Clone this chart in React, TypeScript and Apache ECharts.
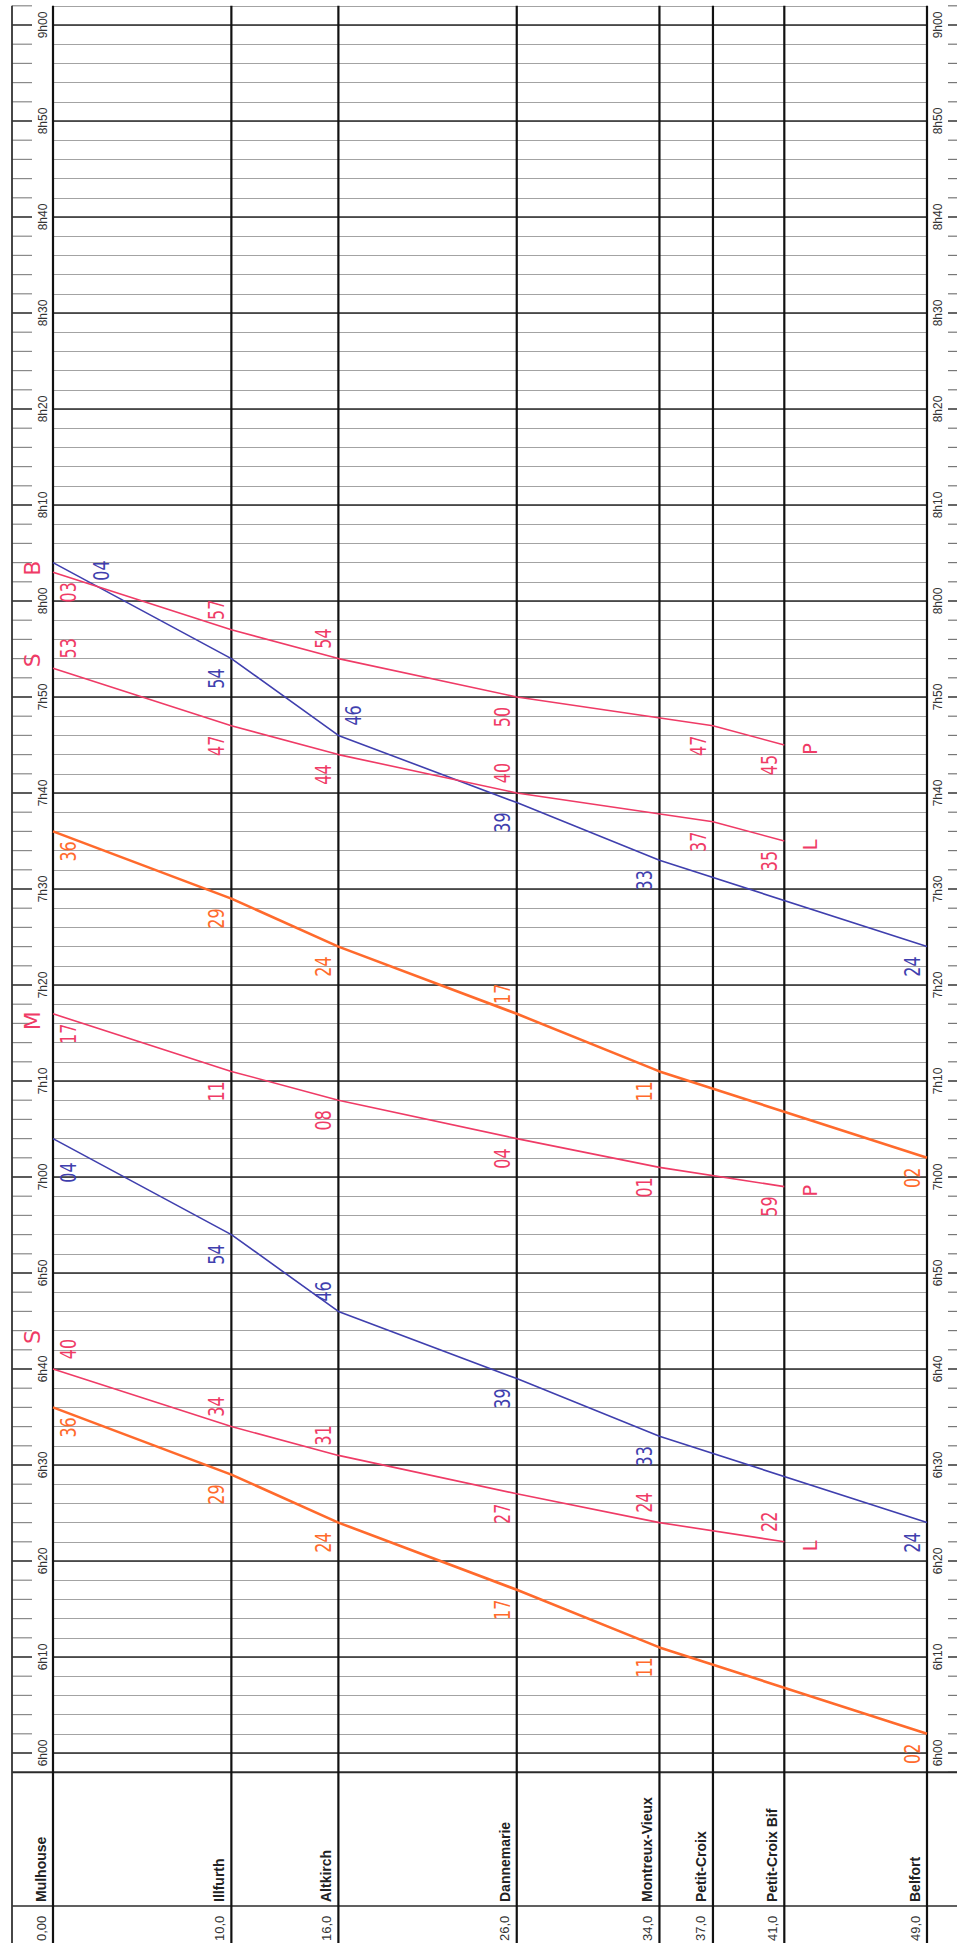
import React, { useEffect, useRef } from 'react';
import * as echarts from 'echarts';

// ---------- DATA ----------
const STATIONS = ['Mulhouse', 'Illfurth', 'Altkirch', 'Dannemarie', 'Montreux-Vieux', 'Petit-Croix', 'Petit-Croix Bif', 'Belfort'];
const STATION_KM = [0, 10, 16, 26, 34, 37, 41, 49];
const KM_LABELS = ['0,00', '10,0', '16,0', '26,0', '34,0', '37,0', '41,0', '49,0'];
const TIME_LABELS = ['6h00', '6h10', '6h20', '6h30', '6h40', '6h50', '7h00', '7h10', '7h20', '7h30', '7h40', '7h50', '8h00', '8h10', '8h20', '8h30', '8h40', '8h50', '9h00'];

// passing times at each station (same order as STATIONS); null = not marked
const ORANGE_1 = ['6:36', '6:29', '6:24', '6:17', '6:11', null, null, '6:02'];
const ORANGE_2 = ['7:36', '7:29', '7:24', '7:17', '7:11', null, null, '7:02'];
const BLUE_1 = ['7:04', '6:54', '6:46', '6:39', '6:33', null, null, '6:24'];
const BLUE_2 = ['8:04', '7:54', '7:46', '7:39', '7:33', null, null, '7:24'];
const PINK_S1 = ['6:40', '6:34', '6:31', '6:27', '6:24', null, '6:22', null];
const PINK_M = ['7:17', '7:11', '7:08', '7:04', '7:01', null, '6:59', null];
const PINK_S2 = ['7:53', '7:47', '7:44', '7:40', null, '7:37', '7:35', null];
const PINK_B = ['8:03', '7:57', '7:54', '7:50', null, '7:47', '7:45', null];

// letters written at the two ends of some trains
const PINK_S1_TAGS = ['S', 'L'];
const PINK_M_TAGS = ['M', 'P'];
const PINK_S2_TAGS = ['S', 'L'];
const PINK_B_TAGS = ['B', 'P'];

// ---------- STYLE / LAYOUT ----------
const ORANGE = '#ff6a2c';
const BLUE = '#3f3fae';
const PINK = '#ef3b66';
const HAND_FONT = '"DejaVu Sans", sans-serif';
const PRINT_FONT = '"Liberation Sans", Arial, sans-serif';

// label side per station: b below-left, a above-left, B below-right, A above-right,
// c further below-right, R far right
const SIDE_OFFSETS: Record<string, [number, number]> = {
  b: [-15, 20], a: [-15, -20], B: [15, 20], A: [15, -20], c: [15, 34], R: [48, 8],
};
const TRAINS = [
  { times: ORANGE_1, color: ORANGE, width: 2.6, sides: 'Bbbbb--b', tags: null, tagDy: 0 },
  { times: ORANGE_2, color: ORANGE, width: 2.6, sides: 'Bbbab--b', tags: null, tagDy: 0 },
  { times: BLUE_1, color: BLUE, width: 1.6, sides: 'cbabb--b', tags: null, tagDy: 0 },
  { times: BLUE_2, color: BLUE, width: 1.6, sides: 'RbAbb--b', tags: null, tagDy: 0 },
  { times: PINK_S1, color: PINK, width: 1.6, sides: 'Aaaba-a-', tags: PINK_S1_TAGS, tagDy: -32 },
  { times: PINK_M, color: PINK, width: 1.6, sides: 'Bbbbb-b-', tags: PINK_M_TAGS, tagDy: 7 },
  { times: PINK_S2, color: PINK, width: 1.6, sides: 'Abba-bb-', tags: PINK_S2_TAGS, tagDy: -8 },
  { times: PINK_B, color: PINK, width: 1.6, sides: 'Baab-bb-', tags: PINK_B_TAGS, tagDy: -4 },
];

const W = 957;
const H = 1943;
const T_MIN = -2;
const T_MAX = 182;

function toMin(s: string): number {
  const [h, m] = s.split(':').map(Number);
  return (h - 6) * 60 + m;
}

export default function App() {
  const ref = useRef<HTMLDivElement>(null);

  useEffect(() => {
    if (!ref.current) return;
    const chart = echarts.init(ref.current, undefined, { renderer: 'svg', width: W, height: H });

    const series = TRAINS.map((tr, k) => ({
      type: 'line',
      name: 'train' + k,
      data: STATION_KM.map((km, i) => (tr.times[i] ? [km, toMin(tr.times[i] as string)] : null)).filter(Boolean),
      showSymbol: false,
      symbol: 'none',
      lineStyle: { color: tr.color, width: tr.width },
      z: 5,
      silent: true,
    }));

    chart.setOption({
      animation: false,
      backgroundColor: '#ffffff',
      grid: { left: 53, right: 30, top: 5.8, bottom: 170.8, containLabel: false },
      xAxis: {
        type: 'value', min: 0, max: 49,
        axisLine: { show: false }, axisTick: { show: false }, axisLabel: { show: false }, splitLine: { show: false },
      },
      yAxis: {
        type: 'value', min: T_MIN, max: T_MAX, interval: 2,
        axisLine: { show: false }, axisTick: { show: false }, axisLabel: { show: false },
        splitLine: { show: true, lineStyle: { color: '#a3a3a3', width: 1.1 } },
      },
      series,
    });

    const px = (km: number) => chart.convertToPixel({ xAxisIndex: 0 }, km) as number;
    const py = (t: number) => chart.convertToPixel({ yAxisIndex: 0 }, t) as number;

    const x0 = px(0);
    const xEnd = px(49);
    const borderX = x0 - 41;
    const yTop = py(T_MAX);
    const yHeadTop = py(T_MIN);
    const yHeadSep = 1906;

    const g: any[] = [];
    const line = (x1: number, y1: number, x2: number, y2: number, stroke: string, lw: number, z = 1) =>
      g.push({ type: 'line', silent: true, z, shape: { x1, y1, x2, y2 }, style: { stroke, lineWidth: lw } });
    const text = (x: number, y: number, t: string, font: string, fill: string, align: string, valign: string, z = 20, scaleY = 1) =>
      g.push({
        type: 'text', silent: true, z, x, y, rotation: Math.PI / 2, scaleY,
        style: { text: t, font, fill, align, textAlign: align, verticalAlign: valign, textVerticalAlign: valign },
      });

    // time grid: major lines in the plot, dashes in the label columns
    for (let t = T_MIN; t <= T_MAX; t += 2) {
      const y = py(t);
      const major = t % 10 === 0;
      if (major) line(x0, y, xEnd, y, '#2b2b2b', 1.6, 2);
      if (t !== T_MIN) {
        line(borderX, y, borderX + 20, y, major ? '#333' : '#8a8a8a', major ? 1.6 : 1.2, 2);
      }
      line(xEnd + 21, y, W, y, major ? '#333' : '#777', major ? 1.5 : 1.2, 2);
    }
    // header lines
    line(borderX, yHeadTop, W, yHeadTop, '#2b2b2b', 2, 3);
    line(borderX, yHeadSep, W, yHeadSep, '#2b2b2b', 1.6, 3);
    // vertical lines
    line(borderX, yTop, borderX, H, '#333', 1.8, 3);
    STATION_KM.forEach((km) => line(px(km), yTop, px(km), H, '#111', 2.2, 3));

    // time labels
    TIME_LABELS.forEach((lab, i) => {
      const y = py(i * 10);
      text(x0 - 10, y, lab, `12px ${PRINT_FONT}`, '#333', 'center', 'middle');
      text(xEnd + 11, y, lab, `12px ${PRINT_FONT}`, '#333', 'center', 'middle');
    });

    // station names and km
    STATIONS.forEach((name, i) => {
      const x = px(STATION_KM[i]);
      text(x - 12, 1902, name, `bold 14px ${PRINT_FONT}`, '#222', 'left', 'middle');
      text(x - 12, 1941, KM_LABELS[i], `13px ${PRINT_FONT}`, '#333', 'left', 'middle');
    });

    // handwritten minutes
    TRAINS.forEach((tr) => {
      tr.times.forEach((tm, i) => {
        if (!tm) return;
        const [dx, dy] = SIDE_OFFSETS[tr.sides[i]] || SIDE_OFFSETS.b;
        const x = px(STATION_KM[i]);
        const y = py(toMin(tm as string));
        text(x + dx, y + dy, (tm as string).split(':')[1],
          `16px ${HAND_FONT}`, tr.color, 'center', 'middle', 30, 1.35);
      });
      if (tr.tags) {
        const first = tr.times[0] as string;
        text(x0 - 21, py(toMin(first)) + tr.tagDy, tr.tags[0], `22px ${HAND_FONT}`, tr.color, 'center', 'middle', 30);
        let last = 0;
        tr.times.forEach((tm, i) => { if (tm) last = i; });
        text(px(STATION_KM[last]) + 26, py(toMin(tr.times[last] as string)) + 4, tr.tags[1],
          `20px ${HAND_FONT}`, tr.color, 'center', 'middle', 30);
      }
    });

    chart.setOption({ graphic: { elements: g } });

    return () => chart.dispose();
  }, []);

  return (
    <div
      ref={ref}
      style={{ position: 'absolute', left: 0, top: 0, width: W, height: H, background: '#fff' }}
    />
  );
}
